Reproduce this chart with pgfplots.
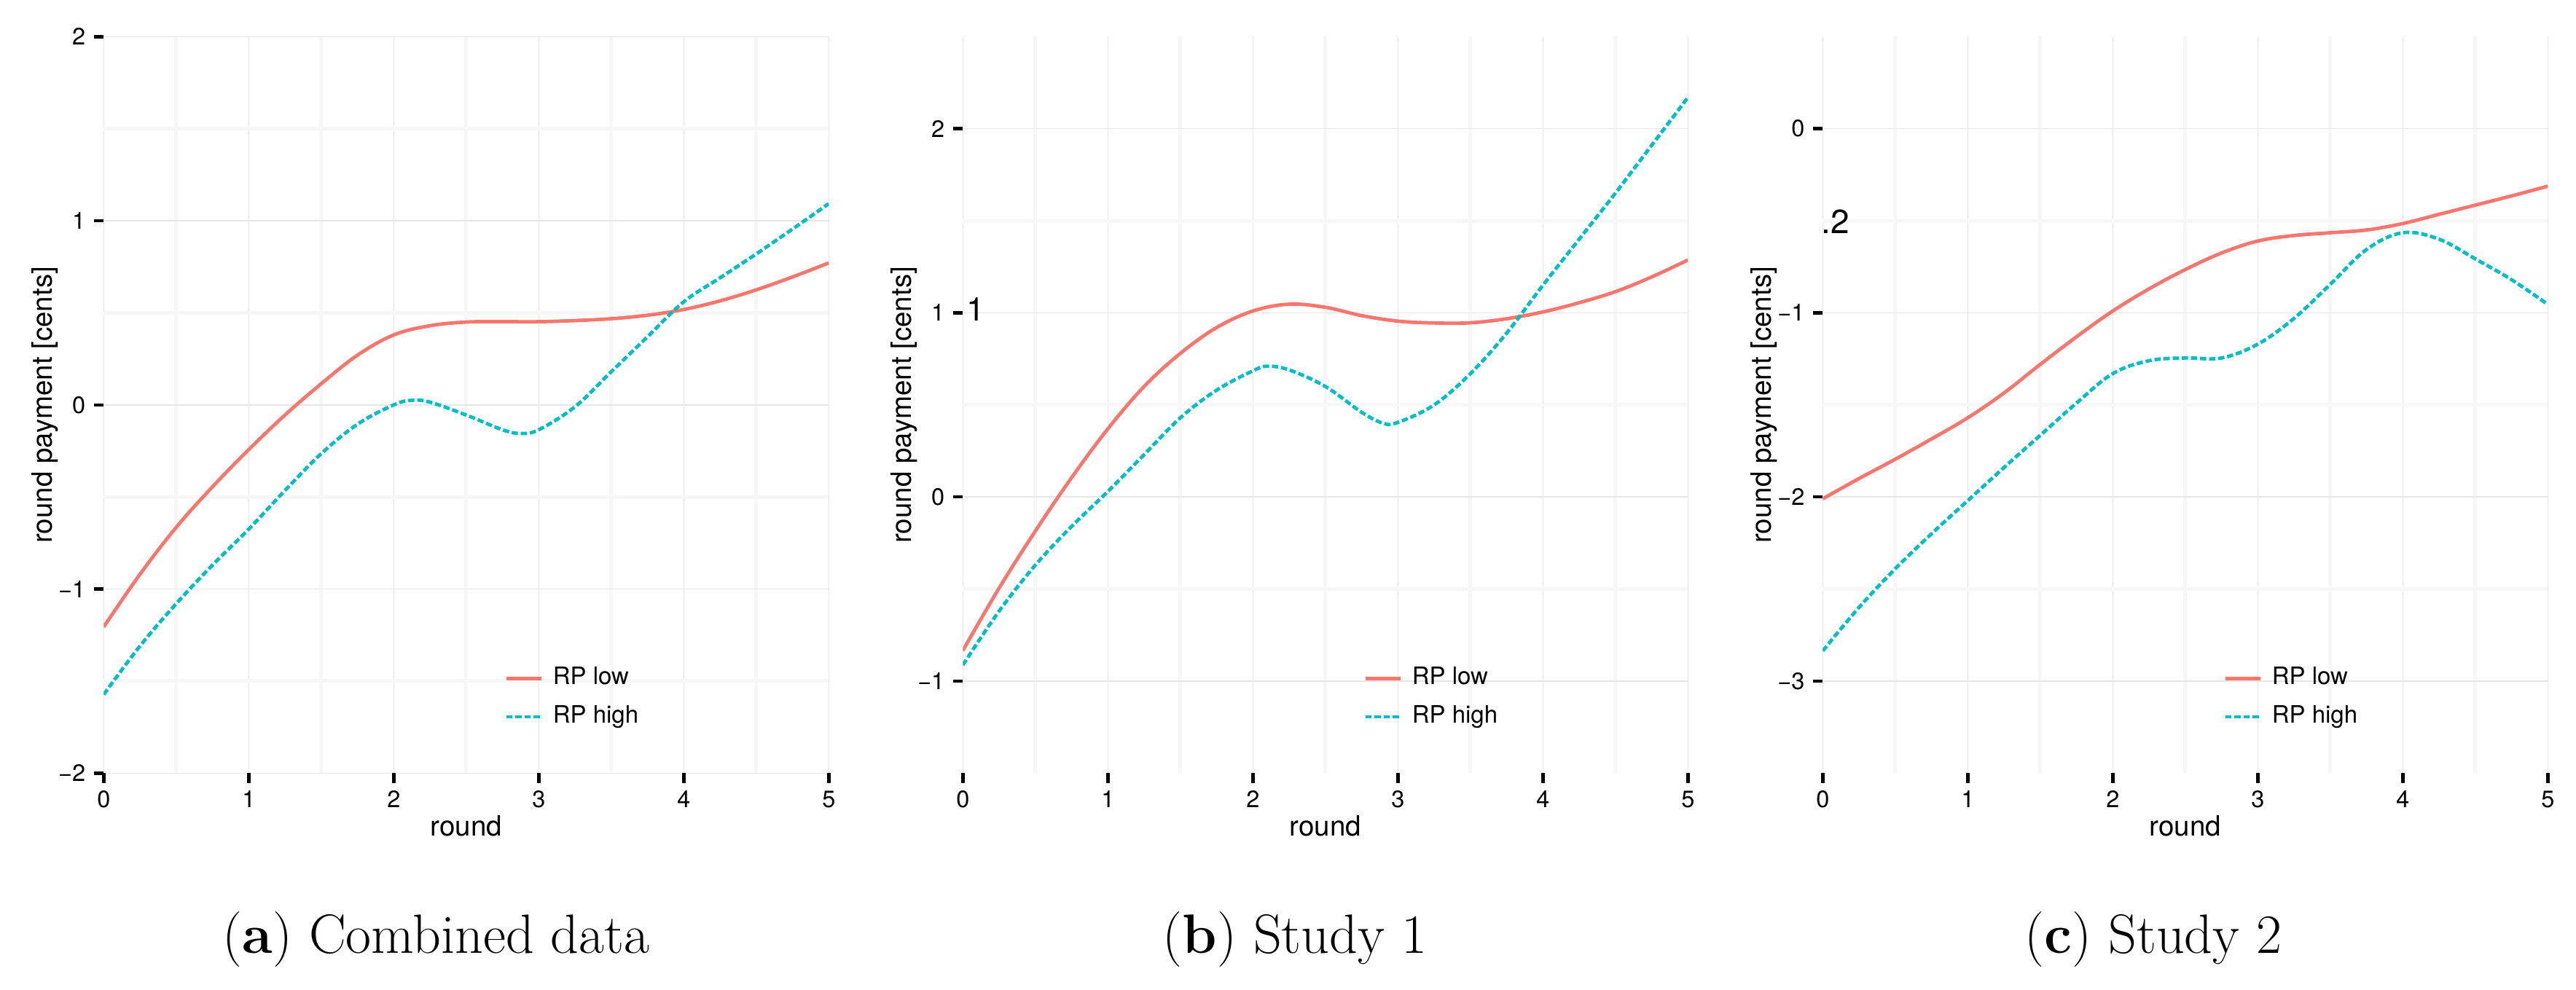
\documentclass[border=0pt]{standalone}
\usepackage{fontspec}
\usepackage{pgfplots}
\pgfplotsset{compat=1.18}
\newfontfamily\plotfont{TeX Gyre Heros}
\definecolor{rplow}{HTML}{F8766D}
\definecolor{rphigh}{HTML}{00BFC4}
\definecolor{grmaj}{HTML}{E6E6E6}
\definecolor{grmin}{HTML}{F7F7F7}
\pgfplotsset{
  panel/.style={
    scale only axis, width=199pt, height=202.2pt, anchor=south west,
    xmin=0, xmax=5, xtick={0,1,2,3,4,5},
    minor x tick num=1, minor y tick num=1,
    grid=both,
    major grid style={color=grmaj, line width=0.3pt},
    minor grid style={color=grmin, line width=1pt},
    axis line style={draw=none},
    tick pos=left, tick align=outside,
    major tick length=2.7pt, minor tick length=0pt,
    every tick/.style={black, line width=0.9pt},
    /pgf/number format/assume math mode=true,
    ticklabel style={font=\plotfont\fontsize{6.5}{7}\selectfont, inner sep=0pt},
    xticklabel style={yshift=-2.0pt},
    yticklabel style={xshift=-2.1pt},
    xlabel={round}, ylabel={round payment [cents]},
    label style={font=\plotfont\fontsize{7.7}{9}\selectfont},
    xlabel style={at={(axis description cs:0.5,0)}, anchor=base, yshift=-17.14pt},
    ylabel style={at={(axis description cs:-0.0814,0.5)}, anchor=center},
    legend style={draw=none, fill=none, inner sep=0pt,
      font=\plotfont\fontsize{6.6}{8}\selectfont,
      at={(axis description cs:0.552,0.1025)}, anchor=west,
      row sep=4.2pt, column sep=2.7pt,
      nodes={inner sep=0pt}},
    legend cell align=left,
    legend image code/.code={\draw[##1] (0pt,0pt) -- (9.6pt,0pt);},
    every axis plot/.append style={line width=0.95pt, smooth, tension=0.6},
  },
  low/.style={rplow, solid},
  high/.style={rphigh, dash pattern=on 1.7pt off 0.8pt},
}
\begin{document}
\begin{tikzpicture}
\useasboundingbox (0,0) rectangle (707pt,271.6pt);
% Panel (a)
\begin{axis}[panel, at={(28.46pt,59.34pt)}, ymin=-2, ymax=2, ytick={-2,-1,0,1,2}, yticklabels={−2,−1,0,1,2}]
\addplot[low] coordinates {(0,-1.206) (0.25,-0.92) (0.5,-0.665) (0.75,-0.445) (1,-0.243) (1.25,-0.055) (1.5,0.115) (1.75,0.27) (2,0.38) (2.25,0.43) (2.5,0.45) (2.75,0.452) (3,0.452) (3.25,0.458) (3.5,0.468) (3.75,0.487) (4,0.518) (4.25,0.565) (4.5,0.625) (4.75,0.695) (5,0.771)};
\addlegendentry{RP low}
\addplot[high] coordinates {(0,-1.573) (0.25,-1.31) (0.5,-1.08) (0.75,-0.87) (1,-0.675) (1.25,-0.465) (1.5,-0.265) (1.75,-0.105) (2,0.0) (2.125,0.025) (2.25,0.015) (2.5,-0.055) (2.75,-0.135) (2.875,-0.155) (3,-0.135) (3.25,-0.01) (3.5,0.18) (3.75,0.37) (4,0.56) (4.25,0.69) (4.5,0.82) (4.75,0.955) (5,1.093)};
\addlegendentry{RP high}
\end{axis}
% Panel (b)
\begin{axis}[panel, at={(264.26pt,59.34pt)}, ymin=-1.5, ymax=2.5, ytick={-1,0,1,2}, yticklabels={−1,0,1,2}]
\addplot[low] coordinates {(0,-0.834) (0.25,-0.495) (0.5,-0.185) (0.75,0.105) (1,0.37) (1.25,0.6) (1.5,0.78) (1.75,0.92) (2,1.01) (2.25,1.047) (2.5,1.03) (2.75,0.985) (3,0.955) (3.25,0.945) (3.5,0.946) (3.75,0.968) (4,1.005) (4.25,1.055) (4.5,1.115) (4.75,1.195) (5,1.287)};
\addlegendentry{RP low}
\addplot[high] coordinates {(0,-0.913) (0.25,-0.62) (0.5,-0.37) (0.75,-0.16) (1,0.03) (1.25,0.23) (1.5,0.43) (1.75,0.58) (2,0.685) (2.1,0.71) (2.25,0.69) (2.5,0.6) (2.75,0.46) (2.9,0.4) (3,0.405) (3.25,0.5) (3.5,0.67) (3.75,0.89) (4,1.15) (4.25,1.4) (4.5,1.65) (4.75,1.91) (5,2.17)};
\addlegendentry{RP high}
\node[font=\plotfont\fontsize{9}{10}\selectfont, anchor=base west, inner sep=0pt] at (axis description cs:0.004,0.6145) {1};
\end{axis}
% Panel (c)
\begin{axis}[panel, at={(500.26pt,59.34pt)}, ymin=-3.5, ymax=0.5, ytick={-3,-2,-1,0}, yticklabels={−3,−2,−1,0}]
\addplot[low] coordinates {(0,-2.01) (0.25,-1.9) (0.5,-1.795) (0.75,-1.685) (1,-1.57) (1.25,-1.435) (1.5,-1.28) (1.75,-1.13) (2,-0.99) (2.25,-0.87) (2.5,-0.765) (2.75,-0.675) (3,-0.61) (3.25,-0.58) (3.5,-0.565) (3.75,-0.55) (4,-0.515) (4.25,-0.465) (4.5,-0.415) (4.75,-0.365) (5,-0.312)};
\addlegendentry{RP low}
\addplot[high] coordinates {(0,-2.836) (0.25,-2.6) (0.5,-2.39) (0.75,-2.2) (1,-2.02) (1.25,-1.84) (1.5,-1.665) (1.75,-1.49) (2,-1.33) (2.25,-1.26) (2.5,-1.245) (2.75,-1.245) (3,-1.17) (3.25,-1.03) (3.5,-0.845) (3.75,-0.656) (4,-0.565) (4.25,-0.6) (4.5,-0.707) (4.75,-0.82) (5,-0.954)};
\addlegendentry{RP high}
\node[font=\plotfont\fontsize{9.2}{10}\selectfont, anchor=base west, inner sep=0pt] at (axis description cs:-0.003,0.733) {.2};
\end{axis}
% Captions
\node[anchor=base, inner sep=0pt, font=\fontsize{15.2}{18}\selectfont] at (119.7pt,10pt) {(\textbf{a}) Combined data};
\node[anchor=base, inner sep=0pt, font=\fontsize{15.2}{18}\selectfont] at (355.4pt,10pt) {(\textbf{b}) Study 1};
\node[anchor=base, inner sep=0pt, font=\fontsize{15.2}{18}\selectfont] at (591pt,10pt) {(\textbf{c}) Study 2};
\end{tikzpicture}
\end{document}
